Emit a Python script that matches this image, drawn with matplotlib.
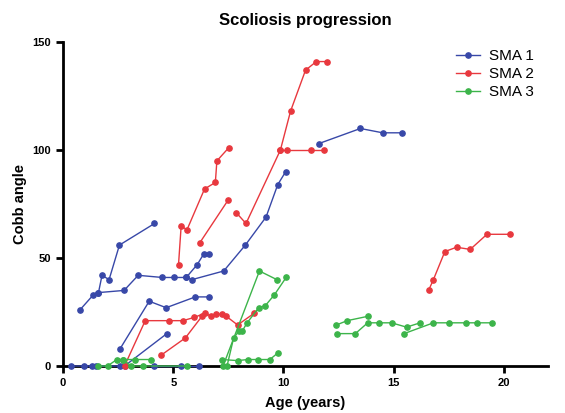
import matplotlib
matplotlib.use("Agg")
import matplotlib.pyplot as plt

plt.rcParams["font.family"] = ["Liberation Sans", "DejaVu Sans"]

# one list per patient: age (years) and Cobb angle
sma1_age = [
    [0.77, 1.38, 1.61, 1.77, 2.09, 2.56, 4.15],
    [1.61, 2.77, 3.41, 4.51, 5.05, 5.59, 6.09, 6.39, 6.6],
    [5.59, 5.85, 7.29, 8.27, 9.21, 9.74, 10.1],
    [11.6, 13.49, 14.5, 15.36],
    [2.59, 3.91, 4.68, 6.0, 6.6],
    [0.35, 0.97, 1.33, 1.48, 2.59, 2.79, 4.71],
    [4.15, 5.36, 6.15],
]
sma1_cobb = [
    [26, 33, 34, 42, 40, 56, 66],
    [34, 35, 42, 41, 41, 41, 47, 52, 52],
    [41, 40, 44, 56, 69, 84, 90],
    [103, 110, 108, 108],
    [8, 30, 27, 32, 32],
    [0, 0, 0, 0, 0, 0, 15],
    [0, 0, 0],
]

sma2_age = [
    [7.86, 8.3, 9.86, 10.32, 11.0, 11.49, 11.99],
    [9.86, 10.14, 11.23, 11.83],
    [5.24, 5.36, 5.62, 6.42, 6.91, 6.98, 7.51],
    [6.2, 7.5],
    [16.58, 16.8, 17.32, 17.85, 18.47, 19.23, 20.29],
    [2.79, 3.73, 4.83, 5.44, 5.95, 6.45, 6.71, 6.95, 7.21, 7.41, 7.92, 8.68],
    [4.45, 5.55, 6.3],
]
sma2_cobb = [
    [71, 66, 100, 118, 137, 141, 141],
    [100, 100, 100, 100],
    [47, 65, 63, 82, 85, 95, 101],
    [57, 77],
    [35, 40, 53, 55, 54, 61, 61],
    [0, 21, 21, 21, 22.5, 24.5, 23, 24, 24, 23, 19, 24.5],
    [5, 13, 23],
]

sma3_age = [
    [1.57, 2.02, 2.44, 2.74, 3.27, 4.0],
    [2.74, 3.08, 3.65, 5.61],
    [7.26, 8.91, 9.7],
    [7.44, 7.74, 7.97, 8.12, 8.35, 8.88, 9.18, 9.59, 10.12],
    [7.21, 7.92, 8.38, 8.83, 9.38, 9.74],
    [12.4, 12.89, 13.82],
    [12.44, 13.26, 13.82, 14.33, 14.9, 15.58, 16.2],
    [15.47, 16.8, 17.5, 18.3, 18.76, 19.47],
]
sma3_cobb = [
    [0, 0, 3, 3, 3, 3],
    [3, 0, 0, 0],
    [0, 44, 40],
    [0, 13, 16, 16, 20, 27, 28, 33, 41],
    [3, 2.5, 3, 3, 3, 6],
    [19, 21, 23],
    [15, 15, 20, 20, 20, 18, 20],
    [15, 20, 20, 20, 20, 20],
]

groups = [
    ("SMA 1", sma1_age, sma1_cobb, "#3848a8"),
    ("SMA 2", sma2_age, sma2_cobb, "#e8383e"),
    ("SMA 3", sma3_age, sma3_cobb, "#3cb44a"),
]

fig = plt.figure(figsize=(5.65, 4.13), dpi=100)
ax = fig.add_axes([0.1115, 0.1138, 0.8585, 0.7842])

for name, ages, cobbs, col in groups:
    for i, (a, c) in enumerate(zip(ages, cobbs)):
        ax.plot(a, c, "-o", color=col, lw=1, ms=3.8, clip_on=False,
                label=name if i == 0 else None, zorder=3)

ax.set_xlim(0, 22)
ax.set_ylim(0, 150)
ax.set_xticks([0, 5, 10, 15, 20])
ax.set_yticks([0, 50, 100, 150])

for s in ["top", "right"]:
    ax.spines[s].set_visible(False)
for s in ["left", "bottom"]:
    ax.spines[s].set_linewidth(2)
ax.tick_params(width=2, length=5, labelsize=8)
for lab in ax.get_xticklabels() + ax.get_yticklabels():
    lab.set_fontweight("bold")

ax.set_xlabel("Age (years)", fontsize=10.5, fontweight="bold", labelpad=6)
ax.set_ylabel("Cobb angle", fontsize=10.5, fontweight="bold", labelpad=4)
ax.set_title("Scoliosis progression", fontsize=12, fontweight="bold", pad=12)

ax.legend(loc="upper right", bbox_to_anchor=(1.0, 1.02), frameon=False,
          fontsize=11, handlelength=1.6, handletextpad=0.6, labelspacing=0.25)

fig.savefig("out.png", dpi=100)
